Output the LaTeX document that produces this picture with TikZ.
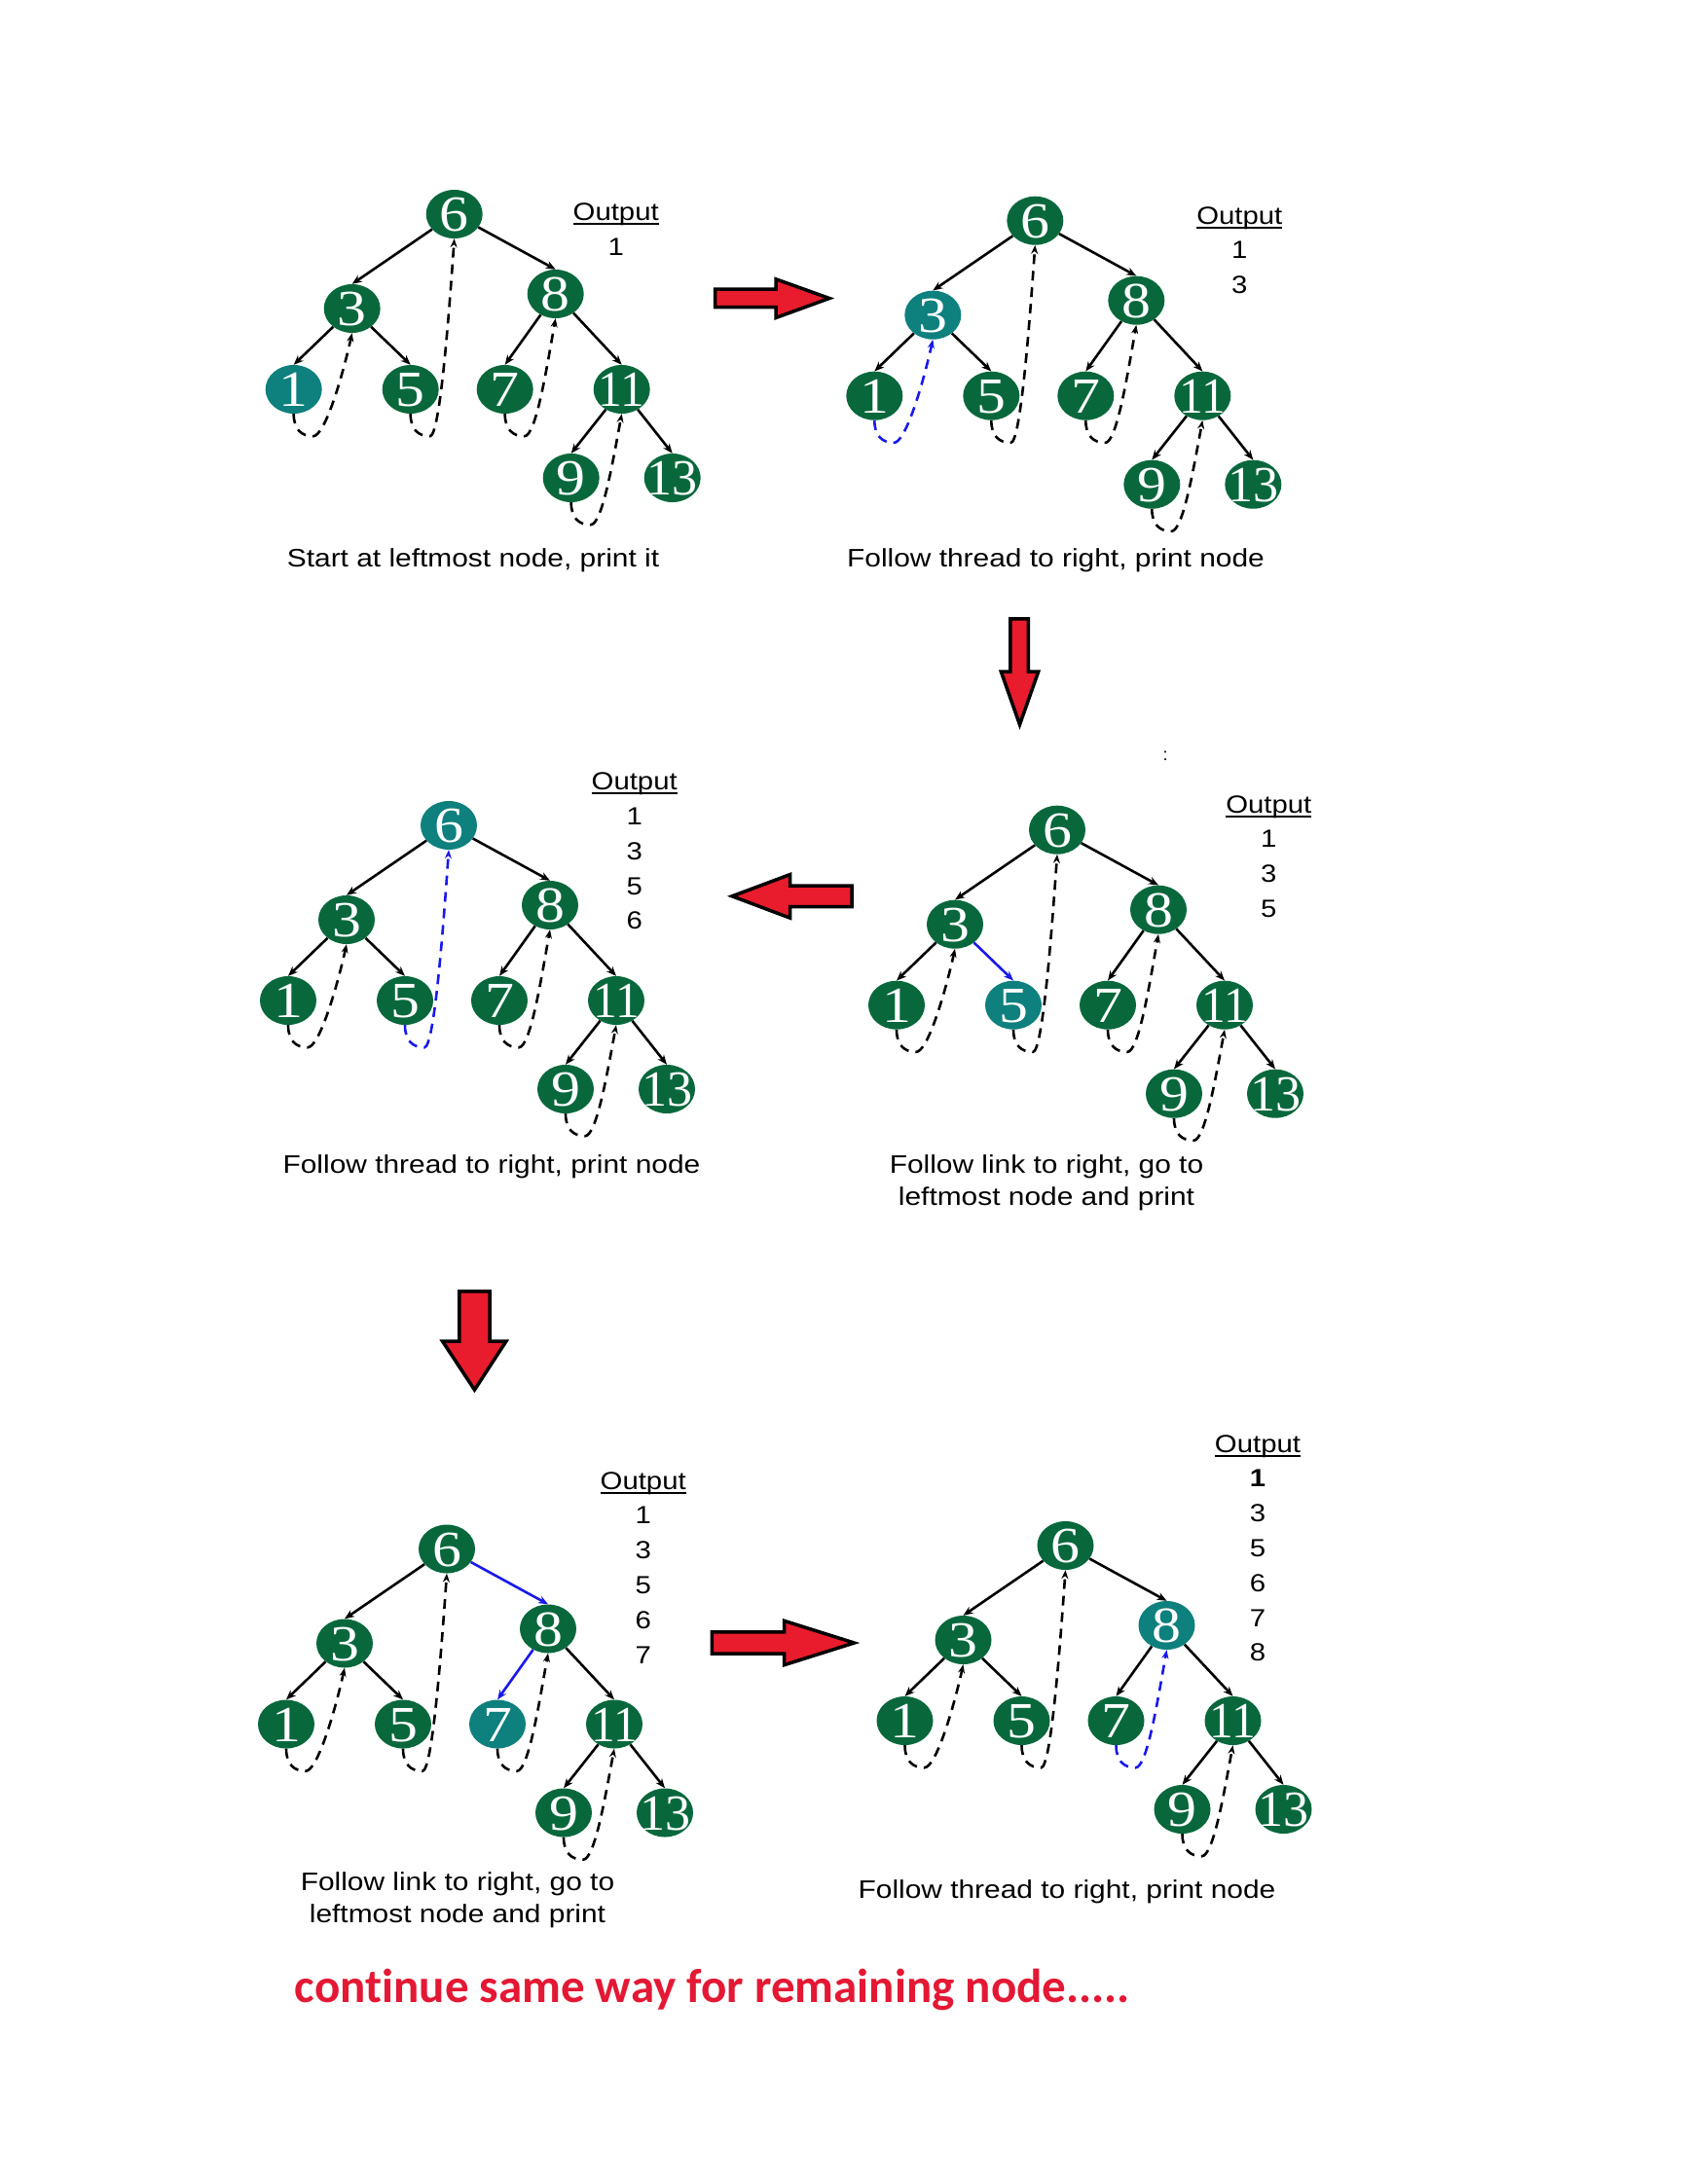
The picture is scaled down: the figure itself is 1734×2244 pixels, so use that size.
\documentclass[tikz,border=0pt]{standalone}
\usepackage{fontspec}
\usepackage{graphicx}
\setmainfont{Liberation Sans}
\newfontfamily\tnrfont{Liberation Serif}
\newfontfamily\calfont{Carlito}[Ligatures=NoCommon]
\usetikzlibrary{arrows.meta,shapes.geometric}
\definecolor{tgreen}{RGB}{8,104,60}
\definecolor{tteal}{RGB}{14,128,126}
\definecolor{tblue}{RGB}{25,25,235}
\definecolor{ared}{RGB}{232,28,44}
\definecolor{rtext}{RGB}{228,24,52}
\newcommand\nodenum[2][1.15]{\smash{\raisebox{-0.345em}{\makebox[0pt]{\scalebox{#1}[1]{#2}}}}}
\newcommand\capt[1]{\scalebox{1.15}[1]{#1}}
\newcommand\myul[1]{\setbox0\hbox{#1}\rlap{\rule[-4.5pt]{\wd0}{1.8pt}}\box0}
\newcommand\mytree[4]{%
\begin{scope}[shift={(#2,#3)},#4]
\node[tn,N6] (#1-6) at (0,0) {\nodenum{6}};
\node[tn,N3] (#1-3) at (-105,97) {\nodenum{3}};
\node[tn,N8] (#1-8) at (104,82) {\nodenum{8}};
\node[tn,N1] (#1-1) at (-165,180) {\nodenum{1}};
\node[tn,N5] (#1-5) at (-45,180) {\nodenum{5}};
\node[tn,N7] (#1-7) at (52,180) {\nodenum{7}};
\node[tn,N11] (#1-11) at (172,180) {\nodenum[0.95]{11}};
\node[tn,N9] (#1-9) at (120,271) {\nodenum{9}};
\node[tn,N13] (#1-13) at (224,271) {\nodenum[1]{13}};
\draw[tedge,E63] (#1-6) -- (#1-3.north);
\draw[tedge,E68] (#1-6) -- (#1-8.north);
\draw[tedge,E31] (#1-3) -- (#1-1.north);
\draw[tedge,E35] (#1-3) -- (#1-5.north);
\draw[tedge,E87] (#1-8) -- (#1-7.north);
\draw[tedge,E811] (#1-8) -- (#1-11.north);
\draw[tedge,E119] (#1-11) -- (#1-9.north);
\draw[tedge,E1113] (#1-11) -- (#1-13.north);
\draw[tthread,T13] (#1-1.south) .. controls +(0,16) and +(-12,0) .. ++(20,23) .. controls +(12,0) and +(-10,45) .. (#1-3.south);
\draw[tthread,T56] (#1-5.south) .. controls +(0,16) and +(-12,0) .. ++(20,23) .. controls +(10,0) and +(-6,85) .. (#1-6.south);
\draw[tthread,T78] (#1-7.south) .. controls +(0,16) and +(-12,0) .. ++(20,23) .. controls +(12,0) and +(-9,50) .. (#1-8.south);
\draw[tthread,T911] (#1-9.south) .. controls +(0,16) and +(-12,0) .. ++(20,23) .. controls +(12,0) and +(-9,48) .. (#1-11.south);
\end{scope}}
\begin{document}
\begin{tikzpicture}[x=1pt,y=-1pt,
 tn/.style={ellipse, minimum width=58pt, minimum height=50pt, inner sep=0pt, fill=tgreen, text=white, font=\tnrfont\fontsize{52}{52}\selectfont},
 tedge/.style={line width=2.6pt, draw=black, -{Stealth[length=10pt,width=8pt]}},
 tthread/.style={line width=2.6pt, draw=black, dash pattern=on 10pt off 7pt, -{Stealth[length=9pt,width=7pt]}},
 N1/.style={}, N3/.style={}, N5/.style={}, N6/.style={}, N7/.style={}, N8/.style={}, N9/.style={}, N11/.style={}, N13/.style={},
 E63/.style={}, E68/.style={}, E31/.style={}, E35/.style={}, E87/.style={}, E811/.style={}, E119/.style={}, E1113/.style={},
 T13/.style={}, T56/.style={}, T78/.style={}, T911/.style={},
 outl/.style={anchor=base, inner sep=0pt, font=\fontsize{25.5}{35.8}\selectfont},
 capn/.style={anchor=base, inner sep=0pt, font=\fontsize{26}{33}\selectfont},
 barrow/.style={fill=ared, draw=black, line width=3.5pt, line join=miter}]
\useasboundingbox (0,0) rectangle (1734,2244);
\fill[white] (0,0) rectangle (1734,2244);

% trees
\mytree{a}{466.7}{220}{N1/.style={fill=tteal}}
\mytree{b}{1063.3}{226.7}{N3/.style={fill=tteal},T13/.style={draw=tblue}}
\mytree{c}{461}{848}{N6/.style={fill=tteal},T56/.style={draw=tblue}}
\mytree{d}{1086}{852.7}{N5/.style={fill=tteal},E35/.style={draw=tblue}}
\mytree{e}{459}{1591.5}{N7/.style={fill=tteal},E68/.style={draw=tblue},E87/.style={draw=tblue}}
\mytree{f}{1094.5}{1588}{N8/.style={fill=tteal},T78/.style={draw=tblue}}

% output lists
\node[outl] (oa) at (632.7,226.7) {\capt{\begin{tabular}[t]{@{}c@{}}\myul{Output}\\1\end{tabular}}};
\node[outl] (ob) at (1273.3,230) {\capt{\begin{tabular}[t]{@{}c@{}}\myul{Output}\\1\\3\end{tabular}}};
\node[outl] (oc) at (651.7,811.7) {\capt{\begin{tabular}[t]{@{}c@{}}\myul{Output}\\1\\3\\5\\6\end{tabular}}};
\node[outl] (od) at (1303.3,835) {\capt{\begin{tabular}[t]{@{}c@{}}\myul{Output}\\1\\3\\5\end{tabular}}};
\node[outl] (oe) at (660.7,1530) {\capt{\begin{tabular}[t]{@{}c@{}}\myul{Output}\\1\\3\\5\\6\\7\end{tabular}}};
\node[outl] (of) at (1292,1492) {\capt{\begin{tabular}[t]{@{}c@{}}\myul{Output}\\\textbf{1}\\3\\5\\6\\7\\8\end{tabular}}};

% captions
\node[capn] (ca) at (486,582.5) {\capt{Start at leftmost node, print it}};
\node[capn] (cb) at (1084.5,582.5) {\capt{Follow thread to right, print node}};
\node[capn] (cc) at (505,1205) {\capt{Follow thread to right, print node}};
\node[capn] (cd) at (1075,1205) {\capt{\begin{tabular}[t]{@{}c@{}}Follow link to right, go to\\leftmost node and print\end{tabular}}};
\node[capn] (ce) at (470,1942) {\capt{\begin{tabular}[t]{@{}c@{}}Follow link to right, go to\\leftmost node and print\end{tabular}}};
\node[capn] (cf) at (1096,1950.5) {\capt{Follow thread to right, print node}};
\node[inner sep=0pt, font=\fontsize{18}{18}\selectfont] (colon) at (1197,777) {:};

% red block arrows
\draw[barrow] (734.5,297.2) -- (797,297.2) -- (797,286.8) -- (852,306.5) -- (797,326.5) -- (797,315.5) -- (734.5,315.5) -- cycle;
\draw[barrow] (1037.8,635.8) -- (1056.3,635.8) -- (1056.3,690) -- (1066.7,690) -- (1047.5,744.5) -- (1028.3,690) -- (1037.8,690) -- cycle;
\draw[barrow] (875,910) -- (811.7,910) -- (811.7,898.5) -- (752,920.8) -- (811.7,943.2) -- (811.7,931.5) -- (875,931.5) -- cycle;
\draw[barrow] (471.8,1326.8) -- (503.2,1326.8) -- (503.2,1378) -- (520,1378) -- (487.5,1428) -- (454.5,1378) -- (471.8,1378) -- cycle;
\draw[barrow] (731.4,1676.8) -- (805.5,1676.8) -- (805.5,1665.3) -- (877.5,1688) -- (805.5,1710.7) -- (805.5,1699.2) -- (731.4,1699.2) -- cycle;

% red note
\node[anchor=base, inner sep=0pt, text=rtext, font=\calfont\bfseries\fontsize{49}{55}\selectfont] (note) at (731.8,2057) {continue same way for remaining node.....};
\end{tikzpicture}
\end{document}
